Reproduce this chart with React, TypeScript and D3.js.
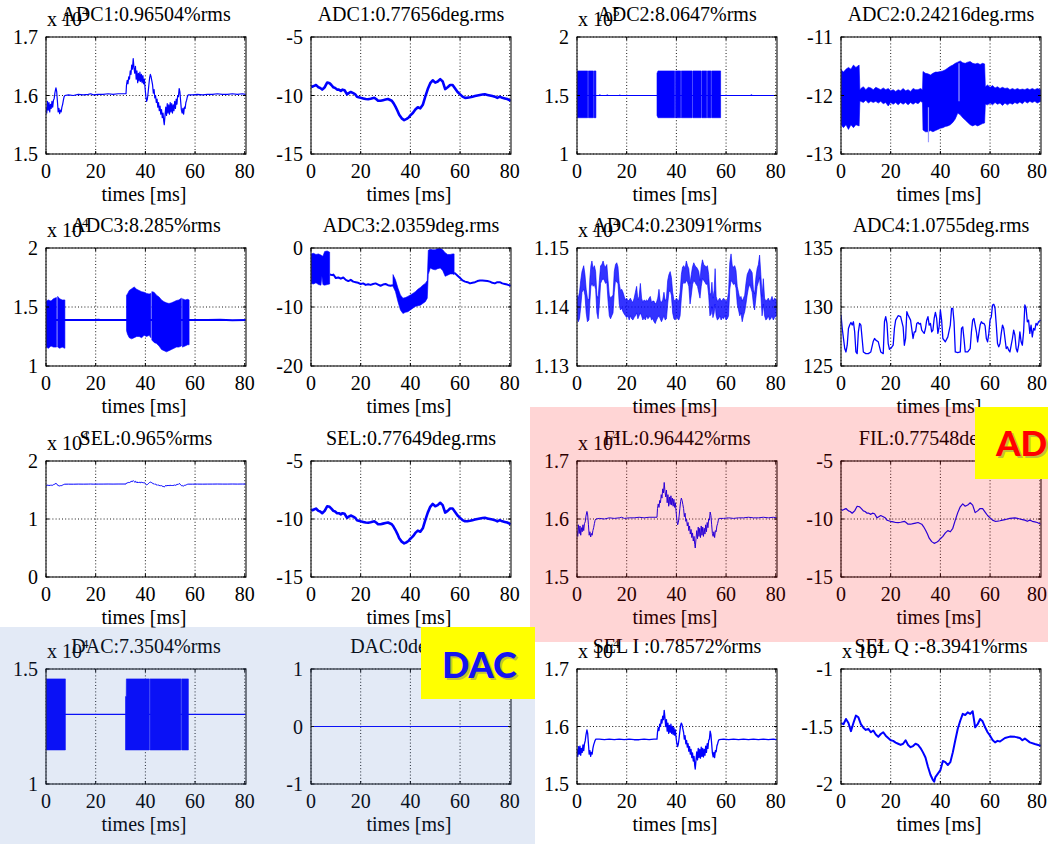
import React from "react";
import * as d3 from "d3";

// ---------- axis / label data ----------
const xTicks = [0, 20, 40, 60, 80];
const xTickLabels = ["0", "20", "40", "60", "80"];
const xLabel = "times [ms]";

const titles = [
  "ADC1:0.96504%rms", "ADC1:0.77656deg.rms", "ADC2:8.0647%rms", "ADC2:0.24216deg.rms",
  "ADC3:8.285%rms", "ADC3:2.0359deg.rms", "ADC4:0.23091%rms", "ADC4:1.0755deg.rms",
  "SEL:0.965%rms", "SEL:0.77649deg.rms", "FIL:0.96442%rms", "FIL:0.77548deg.rms",
  "DAC:7.3504%rms", "DAC:0deg.rms", "SEL I :0.78572%rms", "SEL Q :-8.3941%rms",
];

const yDomains = [
  [1.5, 1.7], [-15, -5], [1, 2], [-13, -11],
  [1, 2], [-20, 0], [1.13, 1.15], [125, 135],
  [0, 2], [-15, -5], [1.5, 1.7], [-15, -5],
  [1, 1.5], [-1, 1], [1.5, 1.7], [-2, -1],
];

const yTicks = [
  [1.5, 1.6, 1.7], [-15, -10, -5], [1, 1.5, 2], [-13, -12, -11],
  [1, 1.5, 2], [-20, -10, 0], [1.13, 1.14, 1.15], [125, 130, 135],
  [0, 1, 2], [-15, -10, -5], [1.5, 1.6, 1.7], [-15, -10, -5],
  [1, 1.5], [-1, 0, 1], [1.5, 1.6, 1.7], [-2, -1.5, -1],
];

const yTickLabels = [
  ["1.5", "1.6", "1.7"], ["-15", "-10", "-5"], ["1", "1.5", "2"], ["-13", "-12", "-11"],
  ["1", "1.5", "2"], ["-20", "-10", "0"], ["1.13", "1.14", "1.15"], ["125", "130", "135"],
  ["0", "1", "2"], ["-15", "-10", "-5"], ["1.5", "1.6", "1.7"], ["-15", "-10", "-5"],
  ["1", "1.5"], ["-1", "0", "1"], ["1.5", "1.6", "1.7"], ["-2", "-1.5", "-1"],
];

const exponents = ["4", "", "5", "", "4", "", "4", "", "4", "", "4", "", "4", "", "4", "4"];

// ---------- series data (time ms, value) ----------
const adc1Amp = [
  [0, 1.58], [0.3, 1.57], [0.6, 1.59], [0.9, 1.575], [1.2, 1.588], [1.5, 1.572], [1.8, 1.585], [2.1, 1.578], [2.4, 1.59], [2.7, 1.58], [3.0, 1.592], [3.3, 1.595], [3.6, 1.605], [4.0, 1.613], [4.3, 1.607], [4.6, 1.59], [4.9, 1.572], [5.2, 1.578], [5.5, 1.569], [5.8, 1.575], [6.1, 1.572], [6.4, 1.58], [6.7, 1.585], [7.0, 1.592], [7.3, 1.598], [7.6, 1.6], [9, 1.601], [11, 1.6], [13, 1.602], [15, 1.601], [17, 1.602], [18, 1.603], [19, 1.601], [21, 1.602], [23, 1.602], [25, 1.603], [27, 1.602], [29, 1.603], [31, 1.603], [32.2, 1.603],
  [32.4, 1.618], [32.7, 1.626], [33.0, 1.62], [33.3, 1.632], [33.6, 1.628], [33.9, 1.642], [34.2, 1.636], [34.5, 1.652], [34.8, 1.645], [35.1, 1.663], [35.4, 1.648], [35.7, 1.638], [36.0, 1.65], [36.3, 1.628], [36.6, 1.642], [36.9, 1.622], [37.2, 1.638], [37.5, 1.625], [37.8, 1.64], [38.1, 1.624], [38.4, 1.636], [38.7, 1.622], [39.0, 1.634], [39.3, 1.62], [39.6, 1.628], [39.9, 1.612], [40.2, 1.598], [40.5, 1.59], [40.8, 1.594], [41.1, 1.605], [41.4, 1.618], [41.7, 1.63], [42.0, 1.636], [42.3, 1.632], [42.6, 1.625], [42.9, 1.618], [43.2, 1.604], [43.5, 1.61], [43.8, 1.596], [44.1, 1.6], [44.4, 1.588], [44.7, 1.594], [45.0, 1.58], [45.3, 1.588], [45.6, 1.574], [45.9, 1.582], [46.2, 1.568], [46.5, 1.576], [46.8, 1.562], [47.1, 1.57], [47.4, 1.556], [47.6, 1.55], [47.9, 1.566], [48.2, 1.58], [48.5, 1.566], [48.8, 1.586], [49.1, 1.57], [49.4, 1.584], [49.7, 1.568], [50.0, 1.588], [50.3, 1.572], [50.6, 1.586], [50.9, 1.57], [51.2, 1.584], [51.5, 1.574], [51.8, 1.59], [52.1, 1.578], [52.4, 1.594], [52.7, 1.585], [53.0, 1.6], [53.3, 1.598], [53.6, 1.612], [53.9, 1.606], [54.2, 1.59], [54.5, 1.575], [54.8, 1.57], [55.1, 1.578], [55.4, 1.568], [55.7, 1.58], [56.0, 1.578], [56.3, 1.588], [56.6, 1.592], [56.9, 1.598], [57.2, 1.601], [59, 1.601], [61, 1.602], [63, 1.601], [65, 1.602], [67, 1.602], [69, 1.603], [71, 1.602], [73, 1.602], [75, 1.603], [77, 1.602], [79, 1.603], [80.4, 1.602],
];

const adc1Phase = [
  [0, -9.17], [0.5, -9.25], [1, -9.2], [1.5, -9.15], [2, -9.1], [2.5, -9.2], [3, -9.3], [3.7, -9.35], [4.5, -9.5], [5, -9.4], [5.5, -9.3], [6, -9.1], [6.5, -8.9], [7, -8.92], [7.5, -8.95], [8.2, -9.1], [9, -9.3], [9.7, -9.35], [10.5, -9.5], [11.2, -9.5], [12, -9.6], [12.7, -9.5], [13.5, -9.55], [14.5, -9.9], [15.2, -9.8], [16, -9.7], [17, -9.8], [17.8, -9.9], [18.5, -10.1], [19.2, -10.15], [20, -10.2], [21, -10.25], [22, -10.3], [23, -10.32], [24, -10.28], [25.5, -10.2], [26.2, -10.3], [27, -10.45], [28, -10.45], [29, -10.4], [30, -10.35], [31, -10.3], [32.5, -10.45], [33.2, -10.65], [34, -10.95], [34.8, -11.3], [35.5, -11.65], [36.5, -11.95], [37.5, -12.1], [38.5, -12.0], [39.2, -11.9], [40, -11.7], [41, -11.5], [42, -11.2], [43, -11.0], [44, -11.1], [45, -10.8], [46, -10.1], [47, -9.45], [48, -8.95], [49, -8.7], [50, -8.9], [51, -8.8], [52, -8.6], [53, -8.8], [54, -9.45], [55, -9.3], [56, -9.1], [57, -9.1], [58, -9.4], [59, -9.7], [60, -9.9], [61, -10.1], [62, -10.2], [63, -10.18], [64, -10.15], [65, -10.1], [66, -10.05], [67, -10.0], [68, -9.95], [69, -9.92], [70, -9.9], [71, -9.95], [72, -10.0], [73, -10.05], [74, -10.1], [75, -10.2], [76, -10.1], [77, -10.2], [78, -10.25], [79, -10.3], [80.4, -10.45],
];

const adc2AmpLine = [
  [0, 1.5], [9, 1.5], [9.2, 1.505], [9.5, 1.5], [12, 1.5], [12.2, 1.504], [12.5, 1.5], [17, 1.5], [17.2, 1.503], [17.5, 1.5], [70, 1.5], [70.2, 1.505], [70.5, 1.5], [80.4, 1.5],
];

// [time, low, high]; NaN rows break the band
const adc2AmpBand = [
  [0, 1.31, 1.71], [4.3, 1.31, 1.71], [4.3, NaN, NaN], [4.6, 1.31, 1.71], [6.6, 1.31, 1.71], [6.6, NaN, NaN], [6.9, 1.31, 1.71], [7.6, 1.31, 1.71], [7.6, NaN, NaN],
  [32.2, 1.33, 1.69], [32.6, 1.31, 1.71], [39.3, 1.31, 1.71], [39.3, NaN, NaN], [39.6, 1.31, 1.71], [41.7, 1.31, 1.71], [41.7, NaN, NaN], [42.0, 1.31, 1.71], [46.3, 1.31, 1.71], [46.3, NaN, NaN], [46.6, 1.31, 1.71], [50.0, 1.31, 1.71], [50.0, NaN, NaN], [50.3, 1.31, 1.71], [52.2, 1.31, 1.71], [52.2, NaN, NaN], [52.5, 1.31, 1.71], [53.9, 1.31, 1.71], [53.9, NaN, NaN], [54.2, 1.31, 1.71], [57.8, 1.31, 1.71],
];

const adc2PhaseBand = [
  [0, -12.5, -11.56], [1, -12.55, -11.6], [2, -12.5, -11.55], [3, -12.58, -11.52], [4, -12.5, -11.55], [5, -12.55, -11.48], [6, -12.5, -11.52], [7.3, -12.52, -11.48], [7.6, -12.1, -11.9],
  [8, -12.1, -11.88], [9, -12.12, -11.85], [10, -12.08, -11.9], [11, -12.13, -11.86], [12, -12.1, -11.87], [13, -12.12, -11.9], [14, -12.1, -11.86], [15, -12.13, -11.88], [16, -12.1, -11.9], [17, -12.14, -11.87], [18, -12.12, -11.9], [19, -12.18, -11.88], [20, -12.12, -11.92], [21, -12.15, -11.9], [22, -12.12, -11.93], [23, -12.16, -11.9], [24, -12.12, -11.92], [25, -12.15, -11.88], [26, -12.12, -11.92], [27, -12.16, -11.9], [28, -12.12, -11.93], [29, -12.15, -11.88], [30, -12.12, -11.9], [31, -12.14, -11.9], [32, -12.1, -11.88], [32.8, -12.12, -11.9],
  [33, -12.59, -11.59], [34, -12.62, -11.62], [35, -12.62, -11.63], [36, -12.6, -11.65], [37, -12.62, -11.62], [38, -12.6, -11.6], [39, -12.58, -11.6], [40, -12.56, -11.59], [41, -12.55, -11.58], [42, -12.53, -11.56], [43, -12.52, -11.53], [44, -12.5, -11.5], [45, -12.46, -11.48], [46, -12.4, -11.45], [47, -12.3, -11.43], [48, -12.33, -11.41], [49, -12.38, -11.44], [50, -12.42, -11.45], [51, -12.46, -11.43], [52, -12.5, -11.42], [53, -12.52, -11.45], [54, -12.5, -11.46], [55, -12.52, -11.45], [56, -12.5, -11.47], [57, -12.48, -11.45], [57.8, -12.47, -11.46],
  [58.1, -12.15, -11.85], [59, -12.16, -11.82], [60, -12.13, -11.86], [61, -12.16, -11.83], [62, -12.12, -11.87], [63, -12.15, -11.85], [64, -12.13, -11.88], [65, -12.17, -11.86], [66, -12.13, -11.88], [67, -12.16, -11.87], [68, -12.13, -11.9], [69, -12.15, -11.88], [70, -12.12, -11.9], [71, -12.14, -11.88], [72, -12.11, -11.9], [73, -12.14, -11.89], [74, -12.1, -11.9], [75, -12.13, -11.88], [76, -12.1, -11.9], [77, -12.12, -11.88], [78, -12.1, -11.9], [79, -12.13, -11.88], [80.4, -12.1, -11.9],
];

const adc2PhaseSpikes = [
  [35.2, -12.2], [35.2, -12.8], [35.2, NaN], [47.5, -11.45], [47.5, -12.1],
];

const adc3AmpLine = [
  [0, 1.39], [20, 1.39], [21, 1.392], [22, 1.389], [23, 1.39], [65, 1.39], [70, 1.392], [75, 1.388], [80.4, 1.39],
];

const adc3AmpBand = [
  [0, 1.16, 1.55], [1, 1.15, 1.56], [2, 1.17, 1.55], [3, 1.16, 1.57], [4.2, 1.16, 1.58], [4.2, NaN, NaN], [4.7, 1.16, 1.59], [5.5, 1.15, 1.57], [6.5, 1.16, 1.56], [7.6, 1.15, 1.56], [7.6, NaN, NaN],
  [32.4, 1.3, 1.6], [32.8, 1.27, 1.61], [33.5, 1.24, 1.64], [34.5, 1.23, 1.655], [35.5, 1.24, 1.67], [36.5, 1.25, 1.65], [37.5, 1.25, 1.64], [38.5, 1.24, 1.63], [39.5, 1.26, 1.625], [40.5, 1.25, 1.615], [41.5, 1.26, 1.61], [42.2, 1.24, 1.615], [42.2, NaN, NaN], [42.6, 1.22, 1.63], [43.5, 1.2, 1.625], [44.5, 1.19, 1.6], [45.5, 1.17, 1.585], [46.5, 1.14, 1.56], [47.5, 1.13, 1.545], [48.5, 1.12, 1.535], [49.5, 1.13, 1.53], [50.5, 1.14, 1.535], [51.5, 1.15, 1.545], [52.5, 1.16, 1.555], [53.5, 1.16, 1.56], [54.5, 1.17, 1.575], [54.5, NaN, NaN], [54.9, 1.16, 1.57], [56, 1.17, 1.56], [57, 1.18, 1.565], [57.6, 1.18, 1.56],
];

const adc3PhaseLine = [
  [7.6, -4.5], [8.5, -4.6], [9, -4.5], [10, -5.1], [11, -5.0], [12, -5.2], [13, -5.0], [14, -5.4], [15, -5.6], [16, -5.4], [17, -5.7], [18, -5.8], [19, -5.9], [20, -6.1], [21, -6.0], [22, -6.25], [23, -6.15], [24, -6.25], [25, -6.1], [26, -6.0], [27, -6.2], [28, -6.4], [29, -6.2], [30, -6.1], [31, -6.3], [32, -6.4], [33, -6.3], [33, NaN],
  [57.6, -4.3], [58, -4.3], [59, -4.7], [60, -5.1], [61, -5.5], [62, -5.7], [63, -5.8], [64, -6.0], [65, -5.9], [66, -5.8], [67, -5.6], [68, -5.5], [69, -5.5], [70, -5.55], [71, -5.6], [72, -5.7], [73, -5.9], [74, -6.0], [75, -5.8], [76, -5.8], [77, -6.0], [78, -6.1], [79, -6.2], [80.4, -6.4],
];

const adc3PhaseBand = [
  [0, -6.0, -1.0], [1, -6.1, -0.9], [2, -5.9, -1.1], [3, -6.2, -1.0], [4, -6.3, -1.2], [4.4, -4.8, -1.3], [4.8, -6.2, -1.4], [5.5, -6.3, -0.6], [6.5, -6.2, -0.5], [7.5, -6.1, -0.7], [7.6, NaN, NaN],
  [33, -6.5, -4.5], [34, -7.4, -5.4], [35, -9.1, -6.8], [36, -10.5, -7.95], [37, -11.1, -8.5], [38, -10.9, -8.4], [39, -10.8, -8.2], [40, -10.5, -7.95], [41, -10.2, -7.7], [42, -9.9, -7.4], [43, -9.8, -7.0], [44, -9.7, -6.7], [45, -9.4, -6.3], [46, -9.1, -6.0], [46.8, -8.5, -5.5], [47.2, -4.5, -0.4], [48, -3.4, -0.2], [49, -3.6, -0.3], [50, -3.7, -0.3], [51, -3.5, -0.1], [52, -3.4, 0], [53, -3.8, -0.3], [54, -4.8, -0.8], [55, -4.6, -1.1], [56, -4.4, -1.1], [57, -4.4, -1.0], [57.6, -4.5, -1.0],
];

const adc4AmpBand = [
  [0, 1.138, 1.142], [0.5, 1.1375, 1.1415], [1, 1.138, 1.1425], [1.5, 1.14, 1.1445], [2, 1.1425, 1.146], [2.7, 1.143, 1.147], [3.2, 1.142, 1.1455], [3.7, 1.139, 1.143], [4.2, 1.1375, 1.1415], [4.8, 1.1378, 1.1412], [5.2, 1.141, 1.145], [5.6, 1.1435, 1.147], [6, 1.144, 1.1478], [6.5, 1.1435, 1.1465], [7, 1.1438, 1.147], [7.5, 1.143, 1.146], [8, 1.139, 1.142], [8.5, 1.138, 1.1415], [9, 1.1405, 1.1445], [9.5, 1.144, 1.147], [10, 1.1445, 1.1472], [10.5, 1.1448, 1.1478], [11, 1.1445, 1.147], [11.5, 1.144, 1.1468], [12, 1.1442, 1.1472], [12.5, 1.141, 1.1445], [13, 1.1385, 1.142], [13.5, 1.138, 1.1415], [14, 1.1385, 1.1418], [14.5, 1.139, 1.142], [15, 1.1425, 1.146], [15.5, 1.1445, 1.1472], [16, 1.1442, 1.1475], [16.5, 1.144, 1.1468], [17, 1.1405, 1.144], [17.5, 1.1395, 1.1428], [18, 1.1398, 1.143], [18.5, 1.1392, 1.1425], [19, 1.1388, 1.1418], [19.5, 1.1385, 1.1412], [20, 1.1382, 1.1415], [20.5, 1.1385, 1.141], [21, 1.1378, 1.1412], [21.5, 1.1385, 1.1415], [22, 1.138, 1.141], [22.5, 1.1378, 1.1408], [23, 1.1382, 1.1415], [23.5, 1.1385, 1.1425], [24, 1.139, 1.1435], [24.5, 1.138, 1.1412], [25, 1.1385, 1.1418], [25.5, 1.139, 1.144], [26, 1.1385, 1.1415], [26.5, 1.1378, 1.1408], [27, 1.1382, 1.1412], [27.5, 1.1378, 1.141], [28, 1.1385, 1.1412], [28.5, 1.138, 1.141], [29, 1.1382, 1.1415], [29.5, 1.1385, 1.1418], [30, 1.1378, 1.1408], [30.5, 1.138, 1.141], [31, 1.1375, 1.141], [31.5, 1.1372, 1.1405], [32, 1.1378, 1.1408], [32.5, 1.1382, 1.1415], [33, 1.1385, 1.143], [33.5, 1.138, 1.141], [34, 1.1375, 1.1408], [34.5, 1.138, 1.1412], [35, 1.1385, 1.1425], [35.5, 1.1378, 1.141], [36, 1.138, 1.1415], [36.5, 1.1405, 1.1445], [37, 1.1425, 1.1455], [37.5, 1.1428, 1.146], [38, 1.142, 1.145], [38.5, 1.139, 1.1425], [39, 1.138, 1.1412], [39.5, 1.1378, 1.141], [40, 1.1382, 1.1415], [40.5, 1.138, 1.1412], [41, 1.1378, 1.141], [41.5, 1.1385, 1.1425], [42, 1.1415, 1.1455], [42.5, 1.1438, 1.1468], [43, 1.1442, 1.147], [43.5, 1.144, 1.1465], [44, 1.1445, 1.1478], [44.5, 1.1442, 1.147], [45, 1.1435, 1.1465], [45.5, 1.1405, 1.144], [46, 1.142, 1.1455], [46.5, 1.1438, 1.1468], [47, 1.1445, 1.1475], [47.5, 1.1442, 1.147], [48, 1.1438, 1.1468], [48.5, 1.1435, 1.1465], [49, 1.1425, 1.146], [49.5, 1.1415, 1.1445], [50, 1.1435, 1.1468], [50.5, 1.1448, 1.148], [51, 1.1445, 1.1472], [51.5, 1.1442, 1.147], [52, 1.1438, 1.1468], [52.5, 1.144, 1.147], [53, 1.142, 1.1455], [53.5, 1.1385, 1.142], [54, 1.1388, 1.1425], [54.3, 1.14, 1.1442], [54.7, 1.1382, 1.1415], [55.2, 1.139, 1.1428], [55.6, 1.1405, 1.1465], [56, 1.1385, 1.1418], [56.5, 1.1378, 1.141], [57, 1.138, 1.1412], [57.5, 1.1385, 1.1415], [58, 1.1378, 1.141], [58.5, 1.1382, 1.1412], [59, 1.138, 1.1415], [59.5, 1.1385, 1.1412], [60, 1.1378, 1.141], [60.5, 1.138, 1.1412], [61, 1.1385, 1.1425], [61.5, 1.143, 1.1475], [62, 1.1445, 1.149], [62.5, 1.1442, 1.147], [63, 1.1438, 1.1468], [63.5, 1.144, 1.147], [64, 1.1432, 1.1462], [64.5, 1.1405, 1.1435], [65, 1.1395, 1.1425], [65.5, 1.1385, 1.1415], [66, 1.139, 1.1418], [66.5, 1.1375, 1.141], [67, 1.1385, 1.1415], [67.5, 1.1392, 1.142], [68, 1.1405, 1.144], [68.5, 1.142, 1.1455], [69, 1.1432, 1.146], [69.5, 1.1438, 1.1465], [70, 1.1432, 1.1462], [70.5, 1.1425, 1.1458], [71, 1.1405, 1.143], [71.5, 1.1395, 1.1422], [72, 1.1415, 1.145], [72.5, 1.1435, 1.1465], [73, 1.1442, 1.1472], [73.5, 1.145, 1.1488], [74, 1.142, 1.1455], [74.5, 1.1385, 1.1418], [75, 1.1405, 1.1448], [75.5, 1.1385, 1.1415], [76, 1.1378, 1.141], [76.5, 1.138, 1.1412], [77, 1.1385, 1.1415], [77.5, 1.1378, 1.141], [78, 1.138, 1.1412], [78.5, 1.1385, 1.1418], [79, 1.1378, 1.141], [79.5, 1.1382, 1.1415], [80.4, 1.1385, 1.1412],
];

const adc4Phase = [
  [0, 129.32], [0.5, 128.18], [1, 127.33], [1.5, 126.48], [2, 126.19], [2.5, 126.76], [3, 128.18], [3.5, 128.47], [4, 128.69], [4.5, 128.47], [5, 128.75], [5.5, 127.9], [6, 126.19], [6.5, 126.05], [7, 127.9], [7.5, 128.61], [8, 128.47], [8.5, 127.33], [9, 126.19], [10, 126.05], [11, 126.05], [12, 126.19], [13, 127.1], [13.5, 127.33], [14, 127.19], [15, 127.05], [16, 126.19], [17, 126.05], [17.5, 128.75], [18, 129.18], [18.5, 128.61], [19, 126.9], [19.5, 126.42], [20, 126.48], [21, 126.76], [21.5, 128.18], [22, 128.89], [23, 129.26], [24, 129.18], [25, 128.32], [25.5, 126.76], [26, 127.33], [26.5, 129.6], [27, 129.32], [28, 128.89], [29, 127.33], [29.5, 127.9], [30, 127.9], [30.5, 128.61], [31, 128.69], [31.5, 128.55], [32, 128.61], [32.5, 128.04], [33, 127.9], [33.5, 127.76], [34, 128.18], [34.5, 128.89], [35, 129.18], [35.5, 128.47], [36, 128.61], [36.5, 127.9], [37, 128.04], [37.5, 129.03], [38, 129.55], [38.5, 129.03], [39, 127.76], [39.5, 128.32], [40, 129.74], [40.5, 128.89], [41, 127.33], [42, 127.05], [43, 127.47], [44, 128.47], [44.5, 129.89], [45, 129.89], [45.5, 128.75], [46, 126.19], [47, 126.14], [48, 126.19], [48.5, 128.18], [49, 128.32], [49.5, 127.33], [50, 126.19], [51, 126.19], [52, 126.48], [52.5, 127.9], [53, 128.89], [53.5, 129.03], [54, 128.47], [54.5, 127.9], [55, 127.05], [55.5, 127.76], [56, 128.47], [56.5, 128.75], [57, 128.61], [57.5, 128.61], [58, 128.41], [58.5, 127.33], [59, 127.05], [59.5, 127.76], [60, 128.89], [60.5, 129.18], [61, 130.17], [61.5, 130.23], [62, 129.89], [62.5, 128.47], [63, 126.9], [63.5, 126.62], [64, 126.9], [64.5, 127.76], [65, 128.47], [65.5, 128.18], [66, 127.33], [66.5, 126.48], [67, 126.62], [67.5, 126.34], [68, 126.19], [68.5, 126.76], [69, 127.33], [69.5, 128.04], [70, 127.61], [70.5, 126.48], [71, 126.19], [71.5, 126.76], [72, 127.9], [72.5, 127.05], [73, 126.76], [73.5, 127.9], [74, 130.17], [74.5, 129.89], [75, 128.75], [75.5, 128.89], [76, 127.76], [76.5, 128.47], [77, 127.47], [77.5, 128.18], [78, 128.04], [78.5, 128.61], [79, 128.47], [79.5, 128.75], [80.4, 128.89],
];

const selAmp = adc1Amp;
const selPhase = adc1Phase;
const filAmp = adc1Amp;
const filPhase = adc1Phase;

const dacAmpLine = [[0, 1.303], [80.4, 1.303]];
const dacAmpBand = [
  [0, 1.148, 1.457], [7.8, 1.148, 1.457], [7.8, NaN, NaN],
  [32.0, 1.148, 1.38], [32.3, 1.148, 1.38], [32.35, 1.148, 1.457], [41.6, 1.148, 1.457], [41.6, NaN, NaN], [41.9, 1.148, 1.457], [54.3, 1.148, 1.457], [54.3, NaN, NaN], [54.6, 1.148, 1.457], [57.3, 1.148, 1.457],
];
const dacPhase = [[0, 0], [80.4, 0]];

const selIAmp = [
  [0, 1.56], [0.3, 1.548], [0.6, 1.565], [0.9, 1.552], [1.2, 1.566], [1.5, 1.55], [1.8, 1.562], [2.1, 1.555], [2.4, 1.568], [2.7, 1.558], [3.0, 1.57], [3.3, 1.575], [3.6, 1.585], [4.0, 1.594], [4.3, 1.588], [4.6, 1.57], [4.9, 1.552], [5.2, 1.558], [5.5, 1.548], [5.8, 1.555], [6.1, 1.552], [6.4, 1.562], [6.7, 1.568], [7.0, 1.572], [7.3, 1.576], [7.6, 1.578], [9, 1.578], [11, 1.577], [13, 1.578], [15, 1.577], [17, 1.578], [19, 1.577], [21, 1.578], [23, 1.577], [25, 1.577], [27, 1.578], [29, 1.577], [31, 1.578], [32.2, 1.578],
  [32.4, 1.59], [32.7, 1.598], [33.0, 1.593], [33.3, 1.604], [33.6, 1.6], [33.9, 1.612], [34.2, 1.606], [34.5, 1.618], [34.8, 1.612], [35.1, 1.628], [35.4, 1.615], [35.7, 1.6], [36.0, 1.612], [36.3, 1.592], [36.6, 1.606], [36.9, 1.588], [37.2, 1.602], [37.5, 1.59], [37.8, 1.604], [38.1, 1.588], [38.4, 1.6], [38.7, 1.586], [39.0, 1.598], [39.3, 1.585], [39.6, 1.594], [39.9, 1.58], [40.2, 1.57], [40.5, 1.565], [40.8, 1.57], [41.1, 1.58], [41.4, 1.592], [41.7, 1.602], [42.0, 1.606], [42.3, 1.603], [42.6, 1.596], [42.9, 1.59], [43.2, 1.578], [43.5, 1.584], [43.8, 1.57], [44.1, 1.576], [44.4, 1.564], [44.7, 1.57], [45.0, 1.557], [45.3, 1.565], [45.6, 1.552], [45.9, 1.56], [46.2, 1.546], [46.5, 1.554], [46.8, 1.54], [47.1, 1.548], [47.4, 1.532], [47.6, 1.526], [47.9, 1.542], [48.2, 1.556], [48.5, 1.542], [48.8, 1.562], [49.1, 1.546], [49.4, 1.56], [49.7, 1.545], [50.0, 1.564], [50.3, 1.548], [50.6, 1.562], [50.9, 1.547], [51.2, 1.56], [51.5, 1.55], [51.8, 1.566], [52.1, 1.555], [52.4, 1.57], [52.7, 1.562], [53.0, 1.576], [53.3, 1.578], [53.6, 1.592], [53.9, 1.586], [54.2, 1.57], [54.5, 1.554], [54.8, 1.547], [55.1, 1.555], [55.4, 1.546], [55.7, 1.558], [56.0, 1.556], [56.3, 1.566], [56.6, 1.57], [56.9, 1.575], [57.2, 1.577], [59, 1.578], [61, 1.577], [63, 1.578], [65, 1.577], [67, 1.578], [69, 1.577], [71, 1.578], [73, 1.577], [75, 1.578], [77, 1.577], [79, 1.578], [80.4, 1.577],
];

const selQ = [
  [0, -1.47], [1, -1.48], [2, -1.435], [3, -1.47], [4, -1.54], [5, -1.47], [6, -1.405], [7, -1.42], [8, -1.48], [9, -1.51], [10, -1.53], [11, -1.52], [12, -1.55], [13, -1.535], [14, -1.57], [15, -1.59], [16, -1.565], [17, -1.55], [18, -1.58], [19, -1.6], [20, -1.62], [21, -1.625], [22, -1.64], [23, -1.65], [24, -1.66], [25, -1.65], [26, -1.62], [27, -1.66], [28, -1.68], [29, -1.67], [30, -1.65], [31, -1.66], [32, -1.687], [33, -1.725], [34, -1.77], [35, -1.85], [36, -1.92], [37, -1.965], [37.5, -1.98], [38, -1.94], [39, -1.91], [40, -1.88], [41, -1.8], [42, -1.81], [43, -1.835], [44, -1.81], [45, -1.725], [46, -1.62], [47, -1.52], [48, -1.45], [49, -1.39], [50, -1.4], [51, -1.377], [52, -1.39], [53, -1.368], [54, -1.507], [55, -1.48], [56, -1.435], [57, -1.455], [58, -1.507], [59, -1.55], [60, -1.58], [61, -1.617], [62, -1.638], [63, -1.625], [64, -1.63], [66, -1.6], [68, -1.588], [70, -1.59], [72, -1.6], [73, -1.62], [74, -1.605], [76, -1.638], [78, -1.652], [80.4, -1.667],
];

// ---------- layout ----------
const W = 1048;
const H = 844;
const colLeft = [46, 311, 577, 841];
const rowTop = [37, 248, 461, 669];
const rowH = [117, 118, 116, 115];
const plotW = 200;
const X_MAX = 80.5;
const FONT = "'Liberation Serif', 'Times New Roman', Times, serif";
const BLUE = "#0000ff";

const series = [
  { line: adc1Amp, lw: 1.2 },
  { line: adc1Phase, lw: 2.6 },
  { line: adc2AmpLine, lw: 1.2, band: adc2AmpBand },
  { band: adc2PhaseBand, light: adc2PhaseSpikes },
  { line: adc3AmpLine, lw: 2, band: adc3AmpBand },
  { line: adc3PhaseLine, lw: 2, band: adc3PhaseBand },
  { band: adc4AmpBand, bandOpacity: 0.8 },
  { line: adc4Phase, lw: 1.3 },
  { line: selAmp, lw: 1 },
  { line: selPhase, lw: 2.6 },
  { line: filAmp, lw: 1 },
  { line: filPhase, lw: 1.2 },
  { line: dacAmpLine, lw: 1.2, band: dacAmpBand },
  { line: dacPhase, lw: 1.2 },
  { line: selIAmp, lw: 1.3 },
  { line: selQ, lw: 2 },
];

function Panel({ i }: { i: number }) {
  const col = i % 4;
  const row = Math.floor(i / 4);
  const left = colLeft[col];
  const top = rowTop[row];
  const h = rowH[row];
  const x = d3.scaleLinear().domain([0, X_MAX]).range([left, left + plotW]);
  const y = d3.scaleLinear().domain(yDomains[i]).range([top + h, top]);
  const s: any = series[i];
  const lineGen = d3
    .line<number[]>()
    .defined((d) => !isNaN(d[1]))
    .x((d) => x(d[0]))
    .y((d) => y(d[1]));
  const areaGen = d3
    .area<number[]>()
    .defined((d) => !isNaN(d[1]))
    .x((d) => x(d[0]))
    .y0((d) => y(d[1]))
    .y1((d) => y(d[2]));
  const clipId = `clip${i}`;
  const cx = left + plotW / 2;
  return (
    <g>
      <defs>
        <clipPath id={clipId}>
          <rect x={left} y={top} width={plotW} height={h} />
        </clipPath>
      </defs>
      <rect x={left} y={top} width={plotW} height={h} fill="#fff" />
      {xTicks.map((t) => (
        <line key={"gx" + t} x1={x(t)} x2={x(t)} y1={top} y2={top + h} stroke="#000" strokeWidth={0.9} strokeDasharray="1 2.2" />
      ))}
      {yTicks[i].map((t) => (
        <line key={"gy" + t} x1={left} x2={left + plotW} y1={y(t)} y2={y(t)} stroke="#000" strokeWidth={0.9} strokeDasharray="1 2.2" />
      ))}
      <g clipPath={`url(#${clipId})`}>
        {s.band && (
          <path d={areaGen(s.band) || ""} fill={BLUE} fillOpacity={s.bandOpacity || 1} stroke={BLUE} strokeWidth={0.6} strokeLinejoin="round" />
        )}
        {s.light && (
          <path d={lineGen(s.light) || ""} fill="none" stroke="#9a9aff" strokeWidth={1.2} />
        )}
        {s.line && (
          <path d={lineGen(s.line) || ""} fill="none" stroke={BLUE} strokeWidth={s.lw} strokeLinejoin="round" />
        )}
      </g>
      <rect x={left} y={top} width={plotW} height={h} fill="none" stroke="#262626" strokeWidth={1.2} />
      {xTicks.map((t) => (
        <g key={"tx" + t}>
          <line x1={x(t)} x2={x(t)} y1={top + h} y2={top + h - 3} stroke="#000" />
          <line x1={x(t)} x2={x(t)} y1={top} y2={top + 3} stroke="#000" />
        </g>
      ))}
      {yTicks[i].map((t) => (
        <g key={"ty" + t}>
          <line x1={left} x2={left + 3} y1={y(t)} y2={y(t)} stroke="#000" />
          <line x1={left + plotW} x2={left + plotW - 3} y1={y(t)} y2={y(t)} stroke="#000" />
        </g>
      ))}
      {xTicks.map((t, k) => (
        <text key={"lx" + t} x={Math.min(x(t), W - 11)} y={top + h + 24} textAnchor="middle" fontSize={20} fontFamily={FONT} fill="#000">
          {xTickLabels[k]}
        </text>
      ))}
      {yTicks[i].map((t, k) => (
        <text key={"ly" + t} x={left - 8} y={y(t) + 7} textAnchor="end" fontSize={20} fontFamily={FONT} fill="#000">
          {yTickLabels[i][k]}
        </text>
      ))}
      <text x={cx - 2} y={top + h + 47} textAnchor="middle" fontSize={20} fontFamily={FONT} fill="#000">
        {xLabel}
      </text>
      {exponents[i] && (
        <g>
          <text x={left + 1} y={top - 11} fontSize={20} fontFamily={FONT} fill="#000">x 10</text>
          <text x={left + 36} y={top - 21} fontSize={13} fontFamily={FONT} fill="#000">{exponents[i]}</text>
        </g>
      )}
      <text x={cx} y={top - 16.5} textAnchor="middle" fontSize={20} fontFamily={FONT} fill="#000">
        {titles[i]}
      </text>
    </g>
  );
}

export default function App() {
  return (
    <svg
      width={W}
      height={H}
      viewBox={`0 0 ${W} ${H}`}
      style={{ position: "absolute", left: 0, top: 0, background: "#fff" }}
    >
      <rect x={0} y={0} width={W} height={H} fill="#fff" />
      {titles.map((_, i) => (
        <Panel key={i} i={i} />
      ))}
      {/* highlight overlays */}
      <rect x={530} y={407} width={518} height={235} fill="#ff0000" opacity={0.165} />
      <rect x={0} y={627} width={535} height={217} fill="#4472c4" opacity={0.15} />
      {/* AD label */}
      <rect x={975} y={407} width={73} height={72} fill="#ffff00" />
      <text x={998} y={458} fontSize={35} fontWeight={900} fontFamily="Lato, 'Liberation Sans', sans-serif" fill="#7a7a7a" opacity={0.45}>AD</text>
      <text x={996} y={456} fontSize={35} fontWeight={900} fontFamily="Lato, 'Liberation Sans', sans-serif" fill="#ff0000">AD</text>
      {/* DAC label */}
      <rect x={421} y={627} width={114} height={72} fill="#ffff00" />
      <text x={444} y={680} fontSize={36} fontWeight={900} fontFamily="Lato, 'Liberation Sans', sans-serif" fill="#7a7a7a" opacity={0.45}>DAC</text>
      <text x={442} y={678} fontSize={36} fontWeight={900} fontFamily="Lato, 'Liberation Sans', sans-serif" fill="#1414f0">DAC</text>
    </svg>
  );
}
